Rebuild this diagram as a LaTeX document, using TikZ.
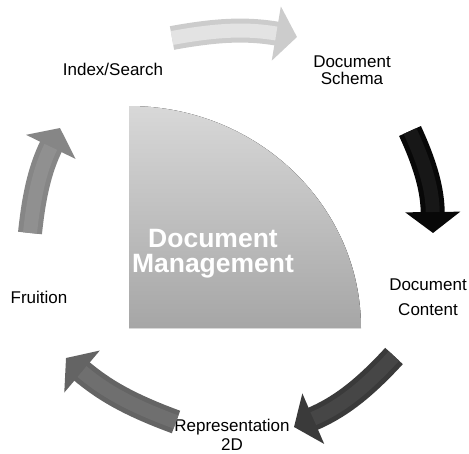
\documentclass[tikz,border=0pt]{standalone}
\usepackage{fontspec}
\setmainfont{Liberation Sans}
\usetikzlibrary{arrows.meta}

\definecolor{discTop}{HTML}{D8D8D8}
\definecolor{discBot}{HTML}{A6A6A6}
\definecolor{arwA}{HTML}{CCCCCC}
\definecolor{arwB}{HTML}{080808}
\definecolor{arwC}{HTML}{3A3A3A}
\definecolor{arwD}{HTML}{646464}
\definecolor{arwE}{HTML}{868686}

\begin{document}
\begin{tikzpicture}[x=1pt, y=-1pt,
    lbl/.style={align=center, inner sep=0pt},
    blockarrow/.style={line width=24pt, -{Triangle[width=54pt, length=21pt]}},
    sheen/.style={line width=14pt, shorten >=21pt}]
    \useasboundingbox (0,0) rectangle (469,453);

    % Quarter disc in the middle
    \fill[top color=discTop, bottom color=discBot] (129,328) -- (129,106)
        arc[start angle=-90, end angle=0, x radius=232, y radius=222] -- cycle;
    \node[lbl, text=white, font=\bfseries\fontsize{26.5}{25}\selectfont] (dm) at (213,254) {Document\\Management};

    % Stage labels
    \node[lbl, font=\fontsize{17}{17}\selectfont] (idx) at (113,69) {Index/Search};
    \node[lbl, font=\fontsize{17}{17}\selectfont] (schema) at (352,70) {Document\\Schema};
    \node[lbl, font=\fontsize{17}{25}\selectfont] (content) at (428,297) {Document\\Content};
    \node[lbl, font=\fontsize{17}{19}\selectfont] (repr) at (232,435) {Representation\\2D};
    \node[lbl, font=\fontsize{17}{17}\selectfont] (fruit) at (39,297) {Fruition};

    % Ends of the block arrows
    \coordinate (a1) at (172,38);  \coordinate (b1) at (297,37);
    \coordinate (a2) at (410,131); \coordinate (b2) at (433,233);
    \coordinate (a3) at (394,356); \coordinate (b3) at (294,427);
    \coordinate (a4) at (176,422); \coordinate (b4) at (66,358);
    \coordinate (a5) at (30,233);  \coordinate (b5) at (60,128);

    % Draw the 5 arrows
    \draw[blockarrow, arwA] (a1) to[bend left=10] (b1);
    \draw[blockarrow, arwB] (a2) to[bend left=12] (b2);
    \draw[blockarrow, arwC] (a3) to[bend left=12] (b3);
    \draw[blockarrow, arwD] (a4) to[bend left=10] (b4);
    \draw[blockarrow, arwE] (a5) to[bend left=10] (b5);

    % Soft light band along each body
    \draw[sheen, white!45!arwA] (a1) to[bend left=10] (b1);
    \draw[sheen, white!6!arwB] (a2) to[bend left=12] (b2);
    \draw[sheen, white!6!arwC] (a3) to[bend left=12] (b3);
    \draw[sheen, white!7!arwD] (a4) to[bend left=10] (b4);
    \draw[sheen, white!8!arwE] (a5) to[bend left=10] (b5);
\end{tikzpicture}
\end{document}
